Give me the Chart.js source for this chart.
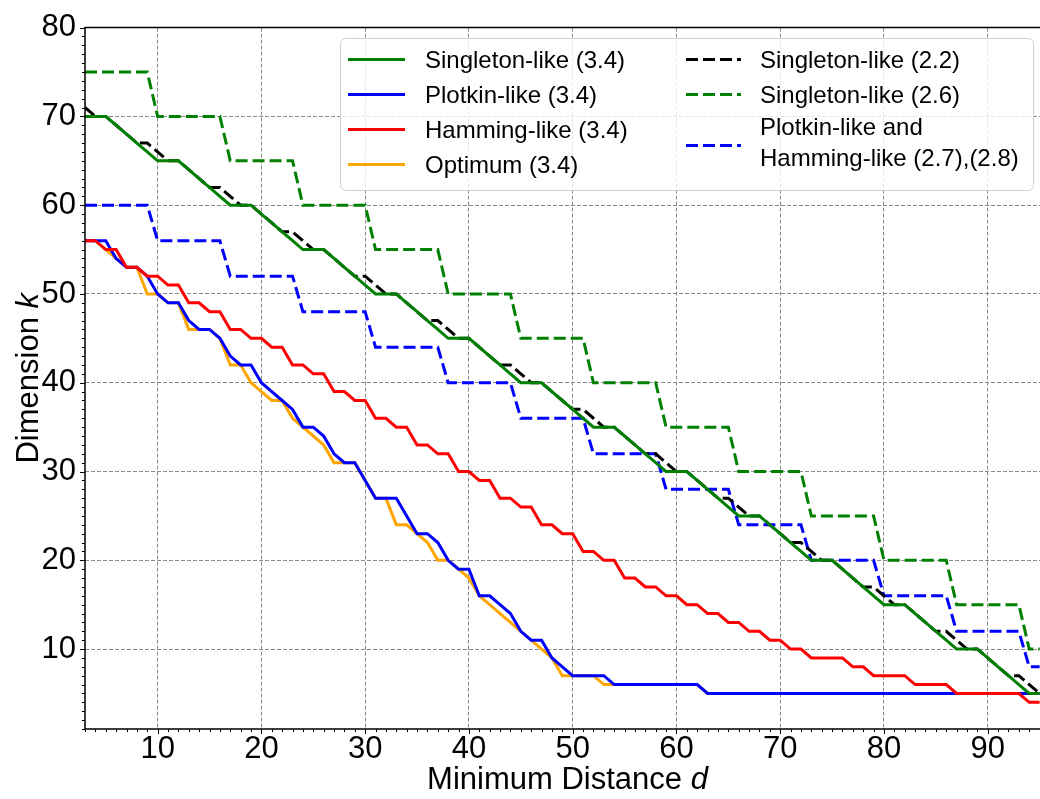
<!DOCTYPE html>
<html>
<head>
<meta charset="utf-8">
<script src="https://cdn.jsdelivr.net/npm/chart.js@4.4.0/dist/chart.umd.min.js"></script>
<style>
  html, body { margin: 0; padding: 0; background: #ffffff; overflow: hidden; }
  #wrap { position: relative; width: 1040px; height: 799px; overflow: hidden; }
  #c { position: absolute; left: 0; top: 0; }
</style>
</head>
<body>
<div id="wrap"><canvas id="c" width="1050" height="799"></canvas></div>
<script>
// ---------------- data ----------------
const distances = [3,4,5,6,7,8,9,10,11,12,13,14,15,16,17,18,19,20,21,22,23,24,25,26,27,28,29,30,31,32,33,34,35,36,37,38,39,40,41,42,43,44,45,46,47,48,49,50,51,52,53,54,55,56,57,58,59,60,61,62,63,64,65,66,67,68,69,70,71,72,73,74,75,76,77,78,79,80,81,82,83,84,85,86,87,88,89,90,91,92,93,94,95];

const singletonLike34 = [70,70,70,69,68,67,66, 65,65,65,64,63,62,61, 60,60,60,59,58,57,56, 55,55,55,54,53,52,51, 50,50,50,49,48,47,46, 45,45,45,44,43,42,41, 40,40,40,39,38,37,36, 35,35,35,34,33,32,31, 30,30,30,29,28,27,26, 25,25,25,24,23,22,21, 20,20,20,19,18,17,16, 15,15,15,14,13,12,11, 10,10,10,9,8,7,6, 5,5];

const plotkinLike34 = [56,56,56,54,53,53,52, 50,49,49,47,46,46,45, 43,42,42,40,39,38,37, 35,35,34,32,31,31,29, 27,27,27,25,23,23,22, 20,19,19,16,16,15,14, 12,11,11,9,8,7,7, 7,7,6,6,6,6,6, 6,6,6,6,5,5,5, 5,5,5,5,5,5,5, 5,5,5,5,5,5,5, 5,5,5,5,5,5,5, 5,5,5,5,5,5,5, 5,5];

const hammingLike34 = [56,56,55,55,53,53,52, 52,51,51,49,49,48,48, 46,46,45,45,44,44,42, 42,41,41,39,39,38,38, 36,36,35,35,33,33,32, 32,30,30,29,29,27,27, 26,26,24,24,23,23,21, 21,20,20,18,18,17,17, 16,16,15,15,14,14,13, 13,12,12,11,11,10,10, 9,9,9,9,8,8,7, 7,7,7,6,6,6,6, 5,5,5,5,5,5,5, 4,4];

const optimum34 = [56,56,55,54,53,53,50, 50,49,49,46,46,46,45, 42,42,40,39,38,38,36, 35,34,33,31,31,31,29, 27,27,24,24,23,22,20, 20,19,18,16,15,14,13, 12,11,10,9,7,7,7, 7,6,6,6,6,6,6, 6,6,6,6,5,5,5, 5,5,5,5,5,5,5, 5,5,5,5,5,5,5, 5,5,5,5,5,5,5, 5,5,5,5,5,5,5, 5,5];

const singletonLike22 = [71,70,70,69,68,67,67, 66,65,65,64,63,62,62, 61,60,60,59,58,57,57, 56,55,55,54,53,52,52, 51,50,50,49,48,47,47, 46,45,45,44,43,42,42, 41,40,40,39,38,37,37, 36,35,35,34,33,32,32, 31,30,30,29,28,27,27, 26,25,25,24,23,22,22, 21,20,20,19,18,17,17, 16,15,15,14,13,12,12, 11,10,10,9,8,7,7, 6,5];

const singletonLike26 = [75,75,75,75,75,75,75, 70,70,70,70,70,70,70, 65,65,65,65,65,65,65, 60,60,60,60,60,60,60, 55,55,55,55,55,55,55, 50,50,50,50,50,50,50, 45,45,45,45,45,45,45, 40,40,40,40,40,40,40, 35,35,35,35,35,35,35, 30,30,30,30,30,30,30, 25,25,25,25,25,25,25, 20,20,20,20,20,20,20, 15,15,15,15,15,15,15, 10,10];

const plotkinHamming2728 = [60,60,60,60,60,60,60, 56,56,56,56,56,56,56, 52,52,52,52,52,52,52, 48,48,48,48,48,48,48, 44,44,44,44,44,44,44, 40,40,40,40,40,40,40, 36,36,36,36,36,36,36, 32,32,32,32,32,32,32, 28,28,28,28,28,28,28, 24,24,24,24,24,24,24, 20,20,20,20,20,20,20, 16,16,16,16,16,16,16, 12,12,12,12,12,12,12, 8,8];

const xTickValues = [10,20,30,40,50,60,70,80,90];
const yTickValues = [10,20,30,40,50,60,70,80];
const xTitle = ['Minimum Distance ', 'd'];
const yTitle = ['Dimension ', 'k'];

const FONT = "'Liberation Sans', Arial, Helvetica, sans-serif";

function pts(vals) { return distances.map((d, i) => ({ x: d, y: vals[i] })); }

const DASH = [12, 5];
const datasets = [
  { label: 'Singleton-like (3.4)', data: pts(singletonLike34), borderColor: '#008000', borderWidth: 3, order: 0, legendCol: 0, legendRow: 0 },
  { label: 'Plotkin-like (3.4)', data: pts(plotkinLike34), borderColor: '#0000ff', borderWidth: 3, order: 2, legendCol: 0, legendRow: 1 },
  { label: 'Hamming-like (3.4)', data: pts(hammingLike34), borderColor: '#ff0000', borderWidth: 3, order: 1, legendCol: 0, legendRow: 2 },
  { label: 'Optimum (3.4)', data: pts(optimum34), borderColor: '#ffa500', borderWidth: 3, order: 3, legendCol: 0, legendRow: 3 },
  { label: 'Singleton-like (2.2)', data: pts(singletonLike22), borderColor: '#000000', borderWidth: 3, borderDash: DASH, order: 4, legendCol: 1, legendRow: 0 },
  { label: 'Singleton-like (2.6)', data: pts(singletonLike26), borderColor: '#008000', borderWidth: 3, borderDash: DASH, order: 6, legendCol: 1, legendRow: 1 },
  { label: 'Plotkin-like and\nHamming-like (2.7),(2.8)', data: pts(plotkinHamming2728), borderColor: '#0000ff', borderWidth: 3, borderDash: DASH, order: 5, legendCol: 1, legendRow: 2 }
];
datasets.forEach(ds => { ds.pointRadius = 0; ds.tension = 0; ds.fill = false; ds.borderCapStyle = 'butt'; ds.borderJoinStyle = 'miter'; });

// ---------------- decorations: spines, minor ticks, titles, legend ----------------
const decor = {
  id: 'decor',
  afterDraw(chart) {
    const { ctx, chartArea: a, scales } = chart;
    const xs = scales.x, ys = scales.y;
    ctx.save();

    // spines
    ctx.strokeStyle = '#000';
    ctx.lineWidth = 1.5;
    ctx.beginPath();
    ctx.moveTo(a.left, a.top); ctx.lineTo(a.right, a.top);
    ctx.moveTo(a.left, a.top - 0.75); ctx.lineTo(a.left, a.bottom + 0.75);
    ctx.moveTo(a.left, a.bottom); ctx.lineTo(a.right, a.bottom);
    ctx.moveTo(a.right, a.top); ctx.lineTo(a.right, a.bottom);
    ctx.stroke();

    // tick marks (major and minor), outward
    ctx.lineWidth = 1;
    for (let v = Math.ceil(xs.min); v <= xs.max; v++) {
      const px = Math.round(xs.getPixelForValue(v)) + 0.5;
      const len = (v % 10 === 0) ? 5 : 3;
      ctx.beginPath(); ctx.moveTo(px, a.bottom); ctx.lineTo(px, a.bottom + len); ctx.stroke();
    }
    for (let v = Math.ceil(ys.min); v <= ys.max; v++) {
      const py = Math.round(ys.getPixelForValue(v)) + 0.5;
      const len = (v % 10 === 0) ? 5 : 3;
      ctx.beginPath(); ctx.moveTo(a.left, py); ctx.lineTo(a.left - len, py); ctx.stroke();
    }

    // axis titles
    ctx.fillStyle = '#000';
    ctx.textBaseline = 'alphabetic';
    const tf = '31px ' + FONT, tfi = 'italic 31px ' + FONT;
    ctx.font = tf; const w1 = ctx.measureText(xTitle[0]).width;
    ctx.font = tfi; const w2 = ctx.measureText(xTitle[1]).width;
    let sx = (a.left + a.right) / 2 - (w1 + w2) / 2;
    ctx.textAlign = 'left';
    ctx.font = tf; ctx.fillText(xTitle[0], sx, 789);
    ctx.font = tfi; ctx.fillText(xTitle[1], sx + w1, 789);

    ctx.save();
    ctx.translate(38, (a.top + a.bottom) / 2);
    ctx.rotate(-Math.PI / 2);
    ctx.font = tf; const v1 = ctx.measureText(yTitle[0]).width;
    ctx.font = tfi; const v2 = ctx.measureText(yTitle[1]).width;
    const sy = -(v1 + v2) / 2;
    ctx.font = tf; ctx.fillText(yTitle[0], sy, 0);
    ctx.font = tfi; ctx.fillText(yTitle[1], sy + v1, 0);
    ctx.restore();

    // legend box
    const L = 340.5, T = 38.5, R = 1033.5, B = 190.5, rad = 6;
    ctx.beginPath();
    ctx.moveTo(L + rad, T);
    ctx.lineTo(R - rad, T); ctx.quadraticCurveTo(R, T, R, T + rad);
    ctx.lineTo(R, B - rad); ctx.quadraticCurveTo(R, B, R - rad, B);
    ctx.lineTo(L + rad, B); ctx.quadraticCurveTo(L, B, L, B - rad);
    ctx.lineTo(L, T + rad); ctx.quadraticCurveTo(L, T, L + rad, T);
    ctx.closePath();
    ctx.fillStyle = 'rgba(255,255,255,0.8)';
    ctx.fill();
    ctx.strokeStyle = '#d0d0d0';
    ctx.lineWidth = 1;
    ctx.stroke();

    const colX = [{ s: 348, e: 405, t: 425 }, { s: 686, e: 741, t: 760 }];
    const rowY = [59.5, 94.5, 129.5, 164.5];
    ctx.font = '24px ' + FONT;
    ctx.textAlign = 'left';
    ctx.textBaseline = 'middle';
    chart.data.datasets.forEach(ds => {
      const c = colX[ds.legendCol];
      const lines = ds.label.split('\n');
      let ly = rowY[ds.legendRow];
      if (lines.length > 1) ly = 145.5;
      ctx.save();
      ctx.strokeStyle = ds.borderColor;
      ctx.lineWidth = 3;
      ctx.setLineDash(ds.borderDash || []);
      ctx.beginPath(); ctx.moveTo(c.s, ly); ctx.lineTo(c.e, ly); ctx.stroke();
      ctx.restore();
      ctx.fillStyle = '#000';
      if (lines.length > 1) {
        ctx.fillText(lines[0], c.t, 128);
        ctx.fillText(lines[1], c.t, 159);
      } else {
        ctx.fillText(lines[0], c.t, ly + 2);
      }
    });
    ctx.restore();
  }
};

new Chart(document.getElementById('c'), {
  type: 'line',
  data: { datasets },
  options: {
    responsive: false,
    animation: false,
    devicePixelRatio: 1,
    layout: { padding: { top: 24, left: 0, right: 0, bottom: 0 } },
    plugins: { legend: { display: false }, tooltip: { enabled: false } },
    elements: { line: { borderWidth: 3 } },
    scales: {
      x: {
        type: 'linear',
        min: 3, max: 96,
        afterBuildTicks: (axis) => { axis.ticks = xTickValues.map(v => ({ value: v })); },
        afterFit: (axis) => { axis.height = 70; },
        ticks: { color: '#000', font: { family: FONT, size: 31 }, padding: 2, maxRotation: 0, minRotation: 0, autoSkip: false },
        grid: { color: '#8a8a8a', lineWidth: 1, drawTicks: false },
        border: { display: false, dash: [4, 2] }
      },
      y: {
        type: 'linear',
        min: 1, max: 80,
        afterBuildTicks: (axis) => { axis.ticks = yTickValues.map(v => ({ value: v })); },
        afterFit: (axis) => { axis.width = 85; },
        ticks: { color: '#000', font: { family: FONT, size: 31 }, padding: 9, autoSkip: false },
        grid: { color: '#8a8a8a', lineWidth: 1, drawTicks: false },
        border: { display: false, dash: [4, 2] }
      }
    }
  },
  plugins: [decor]
});
</script>
</body>
</html>
